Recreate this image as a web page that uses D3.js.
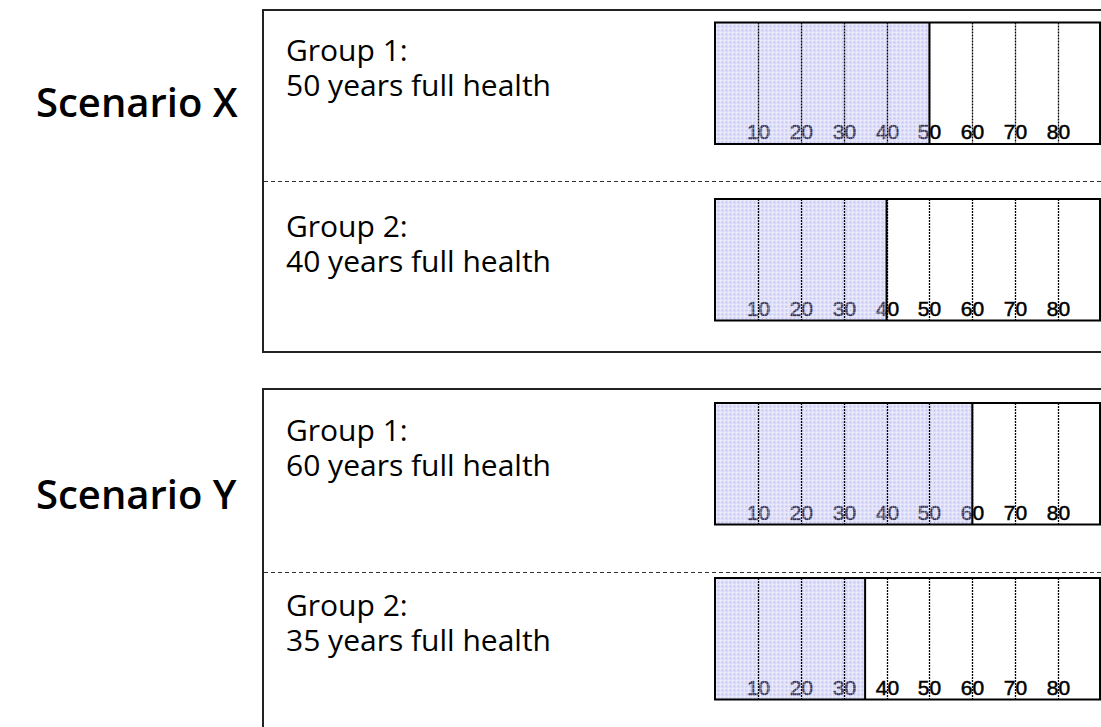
<!DOCTYPE html>
<html>
<head>
<meta charset="utf-8">
<script src="https://cdn.jsdelivr.net/npm/d3@7"></script>
<style>
  body { margin: 0; background: #fff; }
  svg { display: block; }
</style>
</head>
<body>
<div id="chart"></div>
<script>
// data
var scenarios = ["Scenario X", "Scenario Y"];
var groupNames = ["Group 1:", "Group 2:", "Group 1:", "Group 2:"];
var healthYears = [50, 40, 60, 35];
var tickValues = [10, 20, 30, 40, 50, 60, 70, 80];
var axisMax = 90;

var width = 1101, height = 727;

// layout (pixels)
var boxTop = [10, 389];
var boxBottom = [352, 760];
var dividerY = [181.5, 572.5];
var rowBarTop = [22.5, 199, 403, 578];
var barHeight = 121.5;
var rowTextBase = [61, 237, 441, 616];
var scenarioBase = [117, 509];

var svg = d3.select("#chart").append("svg")
    .attr("width", width)
    .attr("height", height);

//fine woven lavender texture, see-through so the numbers behind it turn grey
var defs = svg.append("defs");
var pat = defs.append("pattern")
    .attr("id", "weave")
    .attr("patternUnits", "userSpaceOnUse")
    .attr("width", 4)
    .attr("height", 4);
pat.append("rect").attr("width", 4).attr("height", 4)
    .attr("fill", "rgb(155,155,235)").attr("fill-opacity", 0.36);
pat.append("rect").attr("x", 0).attr("y", 0).attr("width", 4).attr("height", 1)
    .attr("fill", "#fff").attr("fill-opacity", 0.3);
pat.append("rect").attr("x", 0).attr("y", 0).attr("width", 1).attr("height", 4)
    .attr("fill", "#fff").attr("fill-opacity", 0.3);
pat.append("rect").attr("x", 2).attr("y", 2).attr("width", 1).attr("height", 1)
    .attr("fill", "rgb(140,140,220)").attr("fill-opacity", 0.4);

var x = d3.scaleLinear().domain([0, axisMax]).range([715, 1101]);
function px(v) { return Math.round(x(v)) + 0.5; }

// scenario boxes
scenarios.forEach(function (s, k) {
    svg.append("rect")
        .attr("x", 263)
        .attr("y", boxTop[k])
        .attr("width", 1000)
        .attr("height", boxBottom[k] - boxTop[k])
        .attr("fill", "none")
        .attr("stroke", "#222")
        .attr("stroke-width", 2);

    svg.append("line")
        .attr("x1", 264).attr("x2", width)
        .attr("y1", dividerY[k]).attr("y2", dividerY[k])
        .attr("stroke", "#333")
        .attr("stroke-width", 1)
        .attr("stroke-dasharray", "4,3");

    svg.append("text")
        .attr("x", 36)
        .attr("y", scenarioBase[k])
        .attr("font-family", "Open Sans, sans-serif")
        .attr("font-weight", 600)
        .style("font-size", "40px")
        .attr("fill", "#000")
        .text(s);
});

// one bar per group
for (var i = 0; i < healthYears.length; ++i) {
    var g = svg.append("g");
    var barTop = rowBarTop[i];

    g.append("text")
        .attr("x", 286)
        .attr("y", rowTextBase[i])
        .attr("font-family", "Open Sans, sans-serif")
        .style("font-size", "30px")
        .attr("fill", "#000")
        .text(groupNames[i]);

    g.append("text")
        .attr("x", 286)
        .attr("y", rowTextBase[i] + 35)
        .attr("font-family", "Open Sans, sans-serif")
        .style("font-size", "30px")
        .attr("fill", "#000")
        .text(healthYears[i] + " years full health");

    //tick numbers sit at the bottom of the bar, centred on their grid line
    g.selectAll(".lbl")
        .data(tickValues)
        .enter().append("text")
        .attr("x", function (d) { return px(d); })
        .attr("y", barTop + barHeight - 5)
        .attr("text-anchor", "middle")
        .attr("font-family", "Liberation Sans, Arial, sans-serif")
        .style("font-size", "21px")
        .attr("fill", "#000")
        .attr("stroke", "#000")
        .attr("stroke-width", 0.5)
        .text(function (d) { return d; });

    //textured fill from 0 to the number of healthy years
    g.append("rect")
        .attr("x", x(0))
        .attr("y", barTop)
        .attr("width", x(healthYears[i]) - x(0))
        .attr("height", barHeight)
        .attr("fill", "url(#weave)");

    //dotted grid lines
    g.selectAll(".grid")
        .data(tickValues)
        .enter().append("line")
        .attr("x1", function (d) { return px(d); })
        .attr("x2", function (d) { return px(d); })
        .attr("y1", barTop)
        .attr("y2", barTop + barHeight)
        .attr("stroke", "#000")
        .attr("stroke-width", 1.3)
        .attr("stroke-dasharray", "2,1");

    //end of the healthy years
    g.append("line")
        .attr("x1", x(healthYears[i]))
        .attr("x2", x(healthYears[i]))
        .attr("y1", barTop)
        .attr("y2", barTop + barHeight)
        .attr("stroke", "#000")
        .attr("stroke-width", 2);

    //bar frame
    g.append("rect")
        .attr("x", x(0))
        .attr("y", barTop)
        .attr("width", x(axisMax) - x(0) - 1)
        .attr("height", barHeight)
        .attr("fill", "none")
        .attr("stroke", "#000")
        .attr("stroke-width", 2);
}
</script>
</body>
</html>
